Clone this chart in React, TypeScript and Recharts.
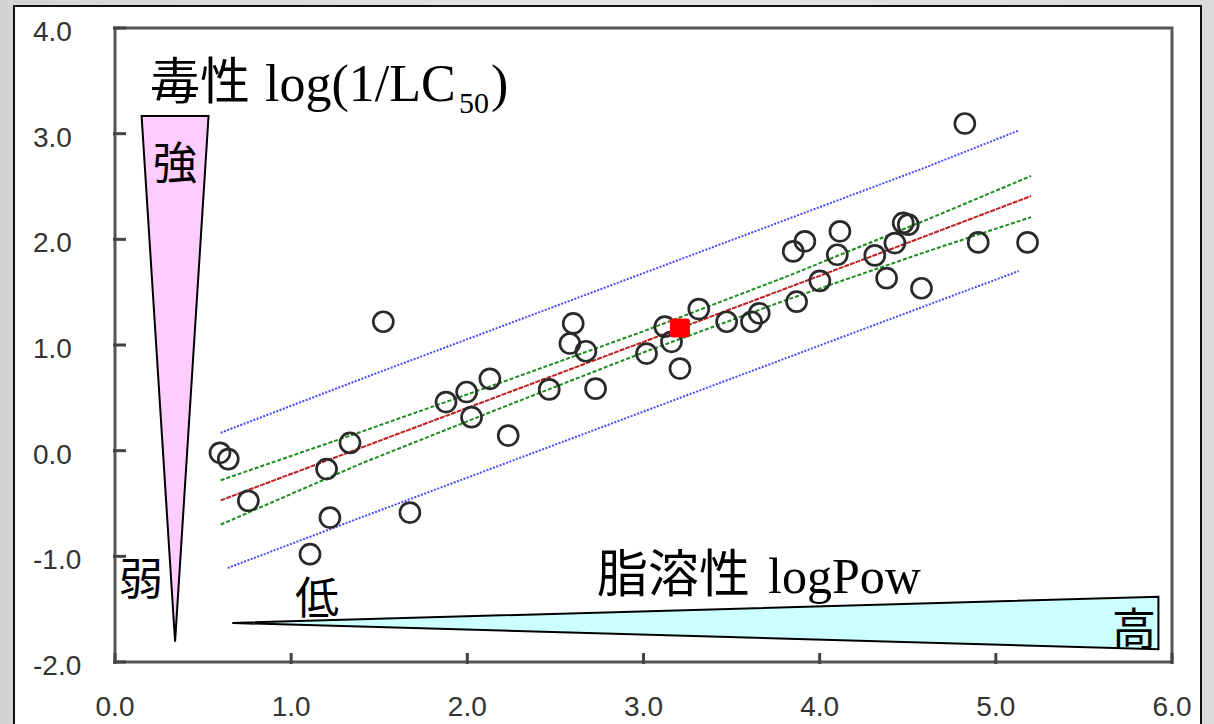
import React from "react";
import { ComposedChart, Scatter, Line, XAxis, YAxis, ReferenceArea } from "recharts";

// 軸の目盛り
const xTicks = [0, 1, 2, 3, 4, 5, 6];
const yTicks = [-2, -1, 0, 1, 2, 3, 4];

// 実測値 (logPow, log(1/LC50))
const obsX = [
  0.596, 0.643, 0.757, 1.107, 1.201, 1.22, 1.334, 1.523, 1.674, 1.879, 1.996,
  2.024, 2.128, 2.232, 2.465, 2.582, 2.601, 2.673, 2.728, 3.017, 3.121, 3.159,
  3.207, 3.314, 3.472, 3.613, 3.657, 3.85, 3.869, 3.916, 4.001, 4.1, 4.115,
  4.313, 4.38, 4.427, 4.474, 4.503, 4.578, 4.824, 4.9, 5.18,
];
const obsY = [
  -0.02, -0.08, -0.475, -0.98, -0.174, -0.633, 0.073, 1.22, -0.586, 0.46, 0.555,
  0.317, 0.68, 0.143, 0.58, 1.014, 1.204, 0.941, 0.587, 0.919, 1.173, 1.03,
  0.777, 1.34, 1.22, 1.22, 1.3, 1.886, 1.41, 1.981, 1.607, 1.854, 2.076,
  1.848, 1.632, 1.965, 2.155, 2.139, 1.537, 3.096, 1.971, 1.971,
];

// 注目物質
const markX = [3.207];
const markY = [1.157];

// 回帰直線と信頼区間
const fitX = [0.6, 1.4, 2.2, 3.0, 3.8, 4.6, 5.2];
const fitY = [-0.47, 0.03, 0.53, 1.03, 1.53, 2.03, 2.41];
const ciUpper = [-0.28, 0.18, 0.65, 1.13, 1.64, 2.18, 2.6];
const ciLower = [-0.7, -0.12, 0.41, 0.93, 1.42, 1.88, 2.21];

// 予測区間
const piUpperX = [0.6, 1.4, 2.2, 3.0, 3.8, 4.6, 5.13];
const piUpperY = [0.17, 0.68, 1.18, 1.68, 2.18, 2.68, 3.03];
const piLowerX = [0.64, 1.4, 2.2, 3.0, 3.8, 4.6, 5.13];
const piLowerY = [-1.11, -0.63, -0.13, 0.37, 0.87, 1.37, 1.7];

const zip = (xs: number[], ys: number[]) => xs.map((x, i) => ({ x, y: ys[i] }));

const observed = zip(obsX, obsY);
const marked = zip(markX, markY);
const fitLine = zip(fitX, fitY);
const ciUpLine = zip(fitX, ciUpper);
const ciLoLine = zip(fitX, ciLower);
const piUpLine = zip(piUpperX, piUpperY);
const piLoLine = zip(piLowerX, piLowerY);

const tickFont = "'Liberation Sans', Arial, sans-serif";
const cjk = "'Noto Sans CJK JP', sans-serif";
const serif = "'Liberation Serif', serif";

const YTick = ({ x, y, payload }: any) => (
  <g>
    <line x1={x} x2={x + 13} y1={y} y2={y} stroke="#444" strokeWidth={3} />
    <text x={x - 80} y={y + 13} fontFamily={tickFont} fontSize={28} fill="#333" textAnchor="start">
      {Number(payload.value).toFixed(1)}
    </text>
  </g>
);

const XTick = ({ x, y, payload }: any) => (
  <g>
    <line x1={x} x2={x} y1={y} y2={y - 11} stroke="#444" strokeWidth={3} />
    <text x={x} y={y + 52} fontFamily={tickFont} fontSize={28} fill="#333" textAnchor="middle">
      {Number(payload.value).toFixed(1)}
    </text>
  </g>
);

const Ring = (p: any) => (
  <circle cx={p.cx} cy={p.cy} r={10} fill="none" stroke="#2a2a2a" strokeWidth={2.7} />
);

const RedSquare = (p: any) => (
  <rect x={p.cx - 10} y={p.cy - 10} width={20} height={19} rx={3} fill="#ff0000" />
);

// 縦の三角形 (上が太い)
const DownWedge = (p: any) => {
  const { x, y, width, height } = p;
  return (
    <polygon
      points={`${x},${y} ${x + width},${y} ${x + width / 2},${y + height}`}
      fill="#ffccff"
      stroke="#000"
      strokeWidth={2}
    />
  );
};

// 横の三角形 (右が太い)
const RightWedge = (p: any) => {
  const { x, y, width, height } = p;
  return (
    <polygon
      points={`${x},${y + height / 2} ${x + width},${y} ${x + width},${y + height}`}
      fill="#ccffff"
      stroke="#000"
      strokeWidth={2}
    />
  );
};

const Frame = (p: any) => (
  <rect x={p.x} y={p.y} width={p.width} height={p.height} fill="none" stroke="#555" strokeWidth={3} />
);

export default function App() {
  return (
    <div
      style={{
        position: "absolute",
        left: 0,
        top: 0,
        width: 1214,
        height: 724,
        overflow: "hidden",
        background: "linear-gradient(90deg, #d4d4d4 0%, #e6e6e6 50%, #dadada 100%)",
      }}
    >
      <div
        style={{
          position: "absolute",
          left: 13,
          top: 5,
          width: 1189,
          height: 740,
          background: "#fff",
          border: "2px solid #111",
          boxSizing: "border-box",
        }}
      />
      <div style={{ position: "absolute", left: 0, top: 0 }}>
        <ComposedChart width={1214} height={724} margin={{ top: 28, right: 42, bottom: 12, left: 34 }}>
          <XAxis
            type="number"
            dataKey="x"
            domain={[0, 6]}
            ticks={xTicks}
            allowDataOverflow
            axisLine={false}
            tickLine={false}
            tickSize={0}
            height={50}
            tick={<XTick />}
          />
          <YAxis
            type="number"
            dataKey="y"
            domain={[-2, 4]}
            ticks={yTicks}
            allowDataOverflow
            axisLine={false}
            tickLine={false}
            tickSize={0}
            width={81}
            tick={<YTick />}
          />
          <ReferenceArea x1={0.151} x2={0.531} y1={3.167} y2={-1.807} ifOverflow="visible" shape={DownWedge} />
          <ReferenceArea x1={0.666} x2={5.923} y1={-1.382} y2={-1.879} ifOverflow="visible" shape={RightWedge} />
          <ReferenceArea x1={0} x2={6} y1={-2} y2={4} ifOverflow="visible" shape={Frame} />
          <Line data={piUpLine} dataKey="y" stroke="#4a4aff" strokeWidth={2} strokeDasharray="2 1.5" dot={false} isAnimationActive={false} />
          <Line data={piLoLine} dataKey="y" stroke="#4a4aff" strokeWidth={2} strokeDasharray="2 1.5" dot={false} isAnimationActive={false} />
          <Line data={ciUpLine} dataKey="y" stroke="#1e8c1e" strokeWidth={2} strokeDasharray="4 2" dot={false} isAnimationActive={false} />
          <Line data={ciLoLine} dataKey="y" stroke="#1e8c1e" strokeWidth={2} strokeDasharray="4 2" dot={false} isAnimationActive={false} />
          <Line data={fitLine} dataKey="y" stroke="#c02020" strokeWidth={2} strokeDasharray="5 1" dot={false} isAnimationActive={false} />
          <Scatter data={observed} dataKey="y" shape={Ring} isAnimationActive={false} />
          <Scatter data={marked} dataKey="y" shape={RedSquare} isAnimationActive={false} />
        </ComposedChart>
      </div>
      <svg
        width={1214}
        height={724}
        style={{ position: "absolute", left: 0, top: 0, pointerEvents: "none" }}
      >
        <text x={150} y={99} fontFamily={cjk} fontSize={50} fill="#000">毒性</text>
        <text x={265} y={101} fontFamily={serif} fontSize={52} fill="#000">log(1/LC</text>
        <text x={459} y={113} fontFamily={serif} fontSize={30} fill="#000">50</text>
        <text x={491} y={101} fontFamily={serif} fontSize={52} fill="#000">)</text>
        <text x={175} y={179} fontFamily={cjk} fontSize={44} fill="#000" textAnchor="middle">強</text>
        <text x={119} y={595} fontFamily={cjk} fontSize={44} fill="#000">弱</text>
        <text x={295} y={614} fontFamily={cjk} fontSize={44} fill="#000">低</text>
        <text x={597} y={592} fontFamily={cjk} fontSize={51} fill="#000">脂溶性</text>
        <text x={768} y={593} fontFamily={serif} fontSize={50} fill="#000">logPow</text>
        <text x={1112} y={645} fontFamily={cjk} fontSize={44} fill="#000">高</text>
      </svg>
    </div>
  );
}
